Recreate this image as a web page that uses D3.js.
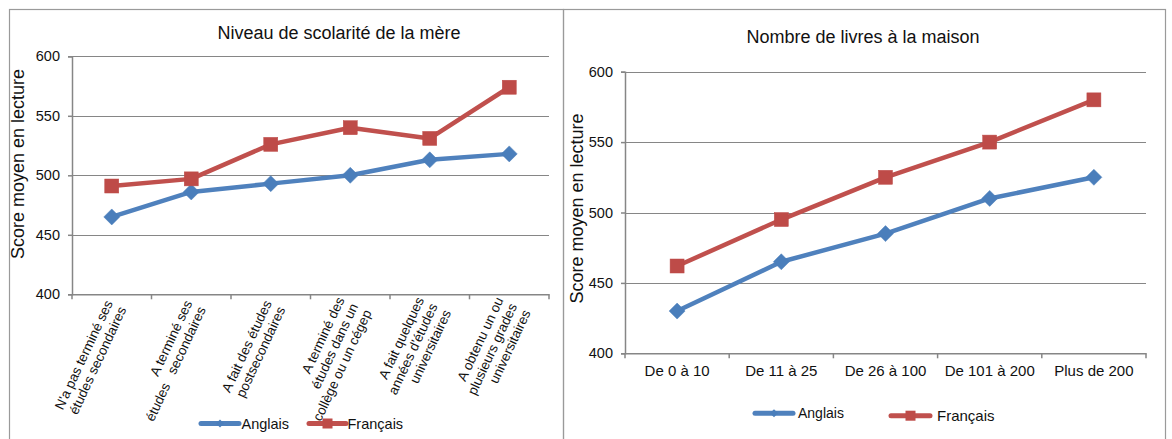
<!DOCTYPE html>
<html><head><meta charset="utf-8">
<script src="https://cdn.jsdelivr.net/npm/d3@7"></script>
<style>
html,body{margin:0;padding:0;background:#fff;}
svg{display:block;font-family:"Liberation Sans",Arial,sans-serif;}
</style></head>
<body>
<svg id="chart" width="1172" height="439"></svg>
<script>
// ---------- data ----------
const titleMere = "Niveau de scolarité de la mère";
const categoriesMere = [
  "N'a pas terminé ses\nétudes secondaires",
  "A terminé ses\nétudes   secondaires",
  "A fait des études\npostsecondaires",
  "A terminé des\nétudes dans un\ncollège ou un cégep",
  "A fait quelques\nannées d'études\nuniversitaires",
  "A obtenu un ou\nplusieurs grades\nuniversitaires"
];
const anglaisMere = [465, 486, 493, 500, 513, 518];
const francaisMere = [491, 497, 526, 540, 531, 574];

const titleLivres = "Nombre de livres à la maison";
const categoriesLivres = ["De 0 à 10", "De 11 à 25", "De 26 à 100", "De 101 à 200", "Plus de 200"];
const anglaisLivres = [430, 465, 485, 510, 525];
const francaisLivres = [462, 495, 525, 550, 580];

const yTicks = [400, 450, 500, 550, 600];
const yLabel = "Score moyen en lecture";
const seriesNames = ["Anglais", "Français"];

// ---------- styles ----------
const BLUE = "#4F81BD", BLUE_M = "#4A7EBB";
const RED = "#C0504D", RED_M = "#BE4B48";
const GRID = "#868686", BORDER = "#9a9a9a", TXT = "#111";

const svg = d3.select("#chart");

// panel borders
svg.append("rect").attr("x", 9.5).attr("y", 9.5).attr("width", 554).attr("height", 460)
  .attr("fill", "none").attr("stroke", BORDER).attr("stroke-width", 1.2);
svg.append("rect").attr("x", 563.5).attr("y", 9.5).attr("width", 602).attr("height", 460)
  .attr("fill", "none").attr("stroke", BORDER).attr("stroke-width", 1.2);

function diamondPath(r){ return `M0,${-r}L${r},0L0,${r}L${-r},0Z`; }

function drawPanel(cfg){
  const g = svg.append("g");
  const x = d3.scaleBand().domain(cfg.cats.map((d,i)=>i)).range([cfg.x0, cfg.x1]).paddingInner(0).paddingOuter(0);
  const y = d3.scaleLinear().domain([400, 600]).range([cfg.yBottom, cfg.yTop]);

  // gridlines
  g.append("g").selectAll("line").data(yTicks.filter(t=>t>400)).join("line")
    .attr("x1", cfg.x0).attr("x2", cfg.x1)
    .attr("y1", d=>Math.round(y(d))+0.5).attr("y2", d=>Math.round(y(d))+0.5)
    .attr("stroke", GRID).attr("stroke-width", 1.2);

  // y axis
  const ya = g.append("g").attr("transform", `translate(${cfg.x0},0)`)
    .call(d3.axisLeft(y).tickValues(yTicks).tickSize(4).tickPadding(8).tickFormat(d3.format("d")));
  ya.select(".domain").attr("stroke", GRID).attr("stroke-width", 1.5);
  ya.selectAll(".tick line").attr("stroke", GRID).attr("stroke-width", 1.5);
  ya.selectAll(".tick text").attr("fill", TXT).style("font-size", "14.5px").style("font-family", "Liberation Sans, Arial, sans-serif");

  // x axis
  const xa = g.append("g").attr("transform", `translate(0,${cfg.yBottom})`)
    .call(d3.axisBottom(x).tickSize(0).tickFormat(""));
  xa.select(".domain").attr("stroke", GRID).attr("stroke-width", 1.5);
  xa.selectAll(".tick").remove();
  const bounds = d3.range(cfg.cats.length + 1).map(i => cfg.x0 + i * x.step());
  g.append("g").selectAll("line").data(bounds).join("line")
    .attr("x1", d=>d).attr("x2", d=>d).attr("y1", cfg.yBottom).attr("y2", cfg.yBottom + 5)
    .attr("stroke", GRID).attr("stroke-width", 1.5);

  // category labels
  if (cfg.rotated) {
    cfg.cats.forEach((c, i) => {
      const lines = c.split("\n");
      const cx = x(i) + x.bandwidth()/2 + cfg.labelDx;
      const t = g.append("text")
        .attr("transform", `translate(${cx},${cfg.yBottom + cfg.labelDy}) rotate(${cfg.angle})`)
        .attr("text-anchor", "end").attr("fill", TXT)
        .style("font-size", "13.5px").style("white-space", "pre");
      lines.forEach((l, k) => {
        t.append("tspan").attr("x", 0).attr("y", (k - (lines.length-1)/2) * cfg.lh)
          .attr("dominant-baseline", "central").text(l);
      });
    });
  } else {
    g.append("g").selectAll("text").data(cfg.cats).join("text")
      .attr("x", (d,i)=>x(i) + x.bandwidth()/2).attr("y", cfg.yBottom + 23)
      .attr("text-anchor", "middle").attr("fill", TXT).style("font-size", "15px").text(d=>d);
  }

  // title
  g.append("text").attr("x", cfg.titleX).attr("y", cfg.titleY).attr("text-anchor", "middle")
    .attr("fill", TXT).style("font-size", "18px").text(cfg.title);

  // y label
  g.append("text").attr("transform", `translate(${cfg.yLabX},${cfg.yLabY}) rotate(-90)`)
    .attr("text-anchor", "middle").attr("dominant-baseline", "central")
    .attr("fill", TXT).style("font-size", "18px").text(yLabel);

  // series
  const line = d3.line().x((d,i)=>x(i) + x.bandwidth()/2).y(d=>y(d));
  g.append("path").datum(cfg.ang).attr("d", line).attr("fill", "none")
    .attr("stroke", BLUE).attr("stroke-width", 4.5).attr("stroke-linejoin", "round");
  g.append("path").datum(cfg.fra).attr("d", line).attr("fill", "none")
    .attr("stroke", RED).attr("stroke-width", 4.5).attr("stroke-linejoin", "round");

  g.append("g").selectAll("path").data(cfg.ang).join("path")
    .attr("transform", (d,i)=>`translate(${x(i)+x.bandwidth()/2},${y(d)})`)
    .attr("d", diamondPath(8))
    .attr("fill", BLUE_M).attr("stroke", BLUE_M).attr("stroke-width", 0.5);
  g.append("g").selectAll("rect").data(cfg.fra).join("rect")
    .attr("x", (d,i)=>x(i)+x.bandwidth()/2 - 7).attr("y", d=>y(d) - 7)
    .attr("width", 14).attr("height", 14)
    .attr("fill", RED_M).attr("stroke", RED_M).attr("stroke-width", 0.5);

  // legend
  cfg.legend.forEach((L, k) => {
    const col = k === 0 ? BLUE : RED, mcol = k === 0 ? BLUE_M : RED_M;
    g.append("line").attr("x1", L.x1).attr("x2", L.x2).attr("y1", L.y).attr("y2", L.y)
      .attr("stroke", col).attr("stroke-width", 5).attr("stroke-linecap", "round");
    const mx = (L.x1 + L.x2)/2;
    if (k === 0) {
      g.append("path").attr("transform", `translate(${mx},${L.y})`)
        .attr("d", diamondPath(4)).attr("fill", mcol);
    } else {
      g.append("rect").attr("x", mx - 5).attr("y", L.y - 5).attr("width", 10).attr("height", 10).attr("fill", mcol);
    }
    g.append("text").attr("x", L.tx).attr("y", L.y).attr("dominant-baseline", "central")
      .attr("fill", TXT).style("font-size", L.fs + "px").text(seriesNames[k]);
  });
}

drawPanel({
  cats: categoriesMere, ang: anglaisMere, fra: francaisMere, title: titleMere,
  x0: 72, x1: 549, yTop: 56.3, yBottom: 294.3,
  rotated: true, angle: -65, labelDx: 4, labelDy: 10, lh: 15,
  titleX: 339, titleY: 39, yLabX: 18, yLabY: 164,
  legend: [
    {x1: 201, x2: 239, y: 423.5, tx: 241.5, fs: 14.5},
    {x1: 309, x2: 346, y: 423.5, tx: 347.5, fs: 14.5}
  ]
});

drawPanel({
  cats: categoriesLivres, ang: anglaisLivres, fra: francaisLivres, title: titleLivres,
  x0: 625, x1: 1146, yTop: 71.7, yBottom: 353.3,
  rotated: false,
  titleX: 863, titleY: 43, yLabX: 577, yLabY: 208.5,
  legend: [
    {x1: 755, x2: 793, y: 413.3, tx: 798, fs: 14},
    {x1: 891, x2: 930, y: 415.7, tx: 937, fs: 15}
  ]
});
</script>
</body></html>
